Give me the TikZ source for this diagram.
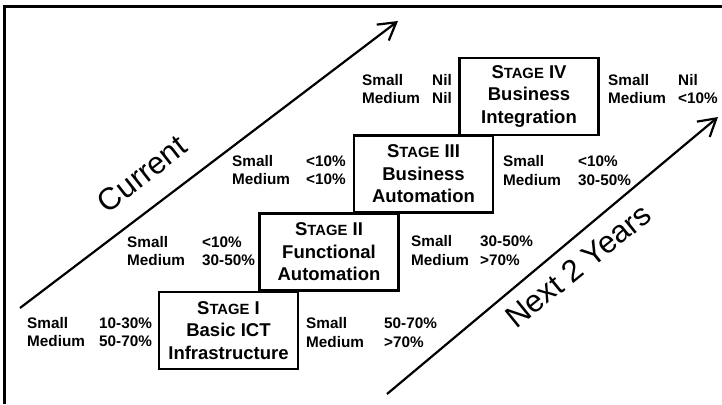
\documentclass[tikz,border=0pt]{standalone}
\usepackage{fontspec}
\setmainfont{Liberation Sans}
\usetikzlibrary{arrows.meta}
\newcommand\stagehead[1]{S{\fontsize{14.8}{22.5}\selectfont TAGE} #1}
\begin{document}
\begin{tikzpicture}[x=1pt,y=-1pt,
 stagebox/.style={draw,line width=2.6pt,minimum width=139pt,minimum height=77pt,inner sep=0pt,align=center,font=\fontsize{18.5}{22.5}\selectfont\bfseries},
 lbl/.style={anchor=base west,inner sep=0pt,font=\fontsize{15.3}{18}\selectfont\bfseries},
 trend/.style={line width=2.2pt,-{Straight Barb[length=17pt,width=20pt,line width=2.2pt]}},
 big/.style={font=\fontsize{31}{36}\selectfont,inner sep=0pt}]
\useasboundingbox (0,0) rectangle (722,404);
\fill[white] (0,0) rectangle (722,404);
% frame
\coordinate (fl) at (4.5,404);
\coordinate (ft) at (4.5,6.7);
\coordinate (fr) at (722,6.7);
\draw[line width=3pt] (fl) -- (ft) -- (fr);
% trend arrows
\coordinate (c0) at (20,308);
\coordinate (c1) at (398,21);
\draw[trend] (c0) -- (c1);
\coordinate (n0) at (387,394);
\coordinate (n1) at (718,117);
\draw[trend] (n0) -- (n1);
\node[big,rotate=38] (cur) at (142,174) {Current};
\node[big,rotate=39] (nxt) at (578,266) {Next 2 Years};
% stages
\node[stagebox] (s1) at (228.5,330.5) {\stagehead{I}\\Basic ICT\\Infrastructure};
\node[stagebox] (s2) at (329,252) {\stagehead{II}\\Functional\\Automation};
\node[stagebox] (s3) at (423.5,174) {\stagehead{III}\\Business\\Automation};
\node[stagebox] (s4) at (529,96.5) {\stagehead{IV}\\Business\\Integration};
% stage I labels
\node[lbl] (a1) at (27,328) {Small};
\node[lbl] (a2) at (99,328) {10-30\%};
\node[lbl] (a3) at (27,346) {Medium};
\node[lbl] (a4) at (99,346) {50-70\%};
\node[lbl] (b1) at (306,328) {Small};
\node[lbl] (b2) at (384,328) {50-70\%};
\node[lbl] (b3) at (306,347) {Medium};
\node[lbl] (b4) at (384,347) {>70\%};
% stage II labels
\node[lbl] (c1l) at (127,247) {Small};
\node[lbl] (c2l) at (202,247) {<10\%};
\node[lbl] (c3l) at (127,265) {Medium};
\node[lbl] (c4l) at (202,265) {30-50\%};
\node[lbl] (d1) at (411,246) {Small};
\node[lbl] (d2) at (480,246) {30-50\%};
\node[lbl] (d3) at (411,265) {Medium};
\node[lbl] (d4) at (480,265) {>70\%};
% stage III labels
\node[lbl] (e1) at (232,166) {Small};
\node[lbl] (e2) at (306,166) {<10\%};
\node[lbl] (e3) at (232,184) {Medium};
\node[lbl] (e4) at (306,184) {<10\%};
\node[lbl] (f1) at (503,166) {Small};
\node[lbl] (f2) at (578,166) {<10\%};
\node[lbl] (f3) at (503,185) {Medium};
\node[lbl] (f4) at (578,185) {30-50\%};
% stage IV labels
\node[lbl] (g1) at (362,85) {Small};
\node[lbl] (g2) at (432,85) {Nil};
\node[lbl] (g3) at (362,103) {Medium};
\node[lbl] (g4) at (432,103) {Nil};
\node[lbl] (h1) at (608,85) {Small};
\node[lbl] (h2) at (678,85) {Nil};
\node[lbl] (h3) at (608,103) {Medium};
\node[lbl] (h4) at (678,103) {<10\%};
\end{tikzpicture}
\end{document}
